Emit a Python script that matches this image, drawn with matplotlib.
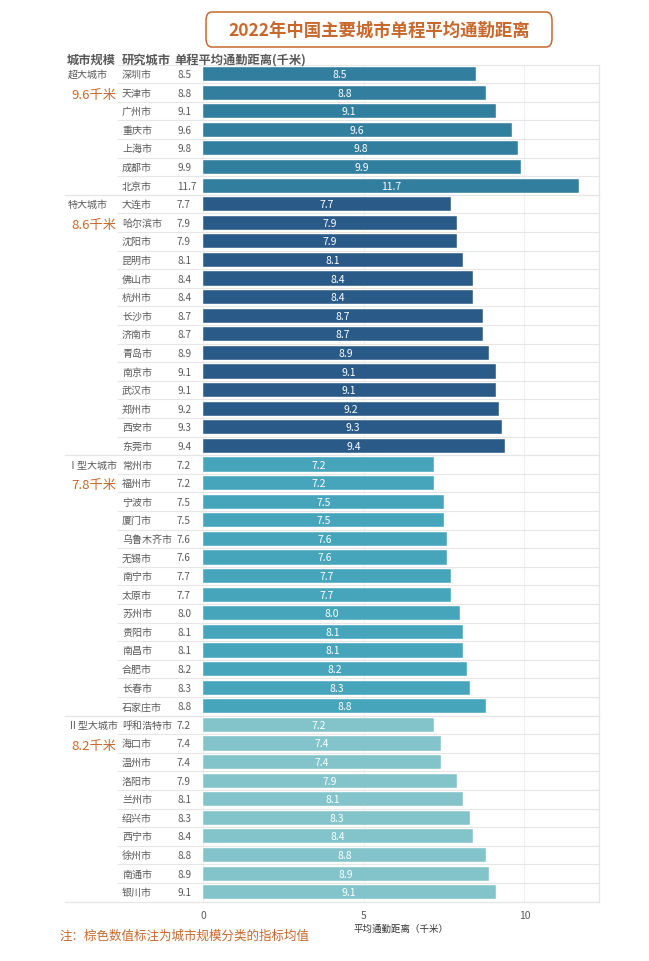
import matplotlib
matplotlib.use("Agg")
import matplotlib.pyplot as plt
from matplotlib.transforms import blended_transform_factory
from matplotlib.patches import FancyBboxPatch

plt.rcParams['font.family'] = ['Noto Sans CJK SC', 'DejaVu Sans']

groups = ["超大城市", "特大城市", "Ⅰ型大城市", "Ⅱ型大城市"]
group_avgs = ["9.6千米", "8.6千米", "7.8千米", "8.2千米"]
group_colors = ["#327E9F", "#2A5A87", "#46A5BB", "#83C4CB"]

cities_super = ["深圳市", "天津市", "广州市", "重庆市", "上海市", "成都市", "北京市"]
values_super = [8.5, 8.8, 9.1, 9.6, 9.8, 9.9, 11.7]
cities_mega = ["大连市", "哈尔滨市", "沈阳市", "昆明市", "佛山市", "杭州市", "长沙市",
               "济南市", "青岛市", "南京市", "武汉市", "郑州市", "西安市", "东莞市"]
values_mega = [7.7, 7.9, 7.9, 8.1, 8.4, 8.4, 8.7, 8.7, 8.9, 9.1, 9.1, 9.2, 9.3, 9.4]
cities_big1 = ["常州市", "福州市", "宁波市", "厦门市", "乌鲁木齐市", "无锡市", "南宁市",
               "太原市", "苏州市", "贵阳市", "南昌市", "合肥市", "长春市", "石家庄市"]
values_big1 = [7.2, 7.2, 7.5, 7.5, 7.6, 7.6, 7.7, 7.7, 8.0, 8.1, 8.1, 8.2, 8.3, 8.8]
cities_big2 = ["呼和浩特市", "海口市", "温州市", "洛阳市", "兰州市", "绍兴市", "西宁市",
               "徐州市", "南通市", "银川市"]
values_big2 = [7.2, 7.4, 7.4, 7.9, 8.1, 8.3, 8.4, 8.8, 8.9, 9.1]

group_cities = [cities_super, cities_mega, cities_big1, cities_big2]
group_values = [values_super, values_mega, values_big1, values_big2]

title = "2022年中国主要城市单程平均通勤距离"
header = ["城市规模", "研究城市", "单程平均通勤距离(千米)"]
xlabel = "平均通勤距离（千米）"
note = "注：棕色数值标注为城市规模分类的指标均值"
xticks = [0, 5, 10]

W, H = 649, 962
fig = plt.figure(figsize=(W / 100, H / 100), dpi=100)
ax_left, ax_right = 203 / W, 599 / W
ax_top, ax_bot = 1 - 65.7 / H, 1 - 902.5 / H
ax = fig.add_axes([ax_left, ax_bot, ax_right - ax_left, ax_top - ax_bot])

n = sum(len(c) for c in group_cities)
ax.set_ylim(n - 0.5, -0.5)
ax.set_xlim(0, 12.32)

gray = "#e6e6e6"
txtgray = "#595959"
orange = "#C8682C"
tr = blended_transform_factory(fig.transFigure, ax.transData)

row = 0
for gi, (cities, vals) in enumerate(zip(group_cities, group_values)):
    start = row
    for ci, (c, v) in enumerate(zip(cities, vals)):
        ax.barh(row, v, height=0.76, color=group_colors[gi], edgecolor="#ffffff",
                linewidth=0.3, zorder=3)
        ax.text(v / 2, row, f"{v:.1f}", color="white", ha="center", va="center",
                fontsize=7.5, zorder=4)
        ax.text(122 / W, row, c, transform=tr, ha="left", va="center",
                fontsize=7.2, color=txtgray)
        ax.text(177 / W, row, f"{v:.1f}", transform=tr, ha="left", va="center",
                fontsize=7.2, color=txtgray)
        if ci < len(cities) - 1:
            ax.plot([118 / W, ax_right], [row + 0.5, row + 0.5], transform=tr,
                    color=gray, lw=0.8, clip_on=False, zorder=1)
        row += 1
    ax.text(68 / W, start, groups[gi], transform=tr, ha="left", va="center",
            fontsize=7.2, color=txtgray)
    ax.text(71 / W, start + 1.1, group_avgs[gi], transform=tr, ha="left", va="center",
            fontsize=9.5, color=orange)
    ax.plot([65 / W, ax_right], [row - 0.5, row - 0.5], transform=tr,
            color=gray, lw=0.9, clip_on=False, zorder=1)

ax.plot([118 / W, ax_right], [-0.5, -0.5], transform=tr, color=gray, lw=0.8,
        clip_on=False, zorder=1)

for s in ["top", "left", "bottom"]:
    ax.spines[s].set_visible(False)
ax.spines["right"].set_color(gray)
ax.spines["right"].set_linewidth(0.9)

ax.set_yticks([])
ax.set_xticks(xticks)
ax.set_xticklabels([str(t) for t in xticks], fontsize=7.5, color=txtgray)
ax.tick_params(axis="x", length=0, pad=6)
ax.grid(axis="x", color="#f0f0f0", lw=0.8, zorder=0)
ax.set_axisbelow(True)
ax.set_xlabel(xlabel, fontsize=6.8, color="#333333", labelpad=3)

# header
hy = 1 - 60.5 / H
fig.text(67 / W, hy, header[0], ha="left", va="center", fontsize=8.8,
         fontweight="bold", color=txtgray)
fig.text(122 / W, hy, header[1], ha="left", va="center", fontsize=8.8,
         fontweight="bold", color=txtgray)
fig.text(174 / W, hy, header[2], ha="left", va="center", fontsize=8.8,
         fontweight="bold", color=txtgray)

# title box
bx0, bx1 = 206 / W, 552 / W
by0, by1 = 1 - 48 / H, 1 - 13 / H
box = FancyBboxPatch((bx0, by0), bx1 - bx0, by1 - by0,
                     boxstyle="round,pad=0,rounding_size=0.009",
                     transform=fig.transFigure, facecolor="white",
                     edgecolor=orange, linewidth=1.1)
fig.patches.append(box)
fig.text((bx0 + bx1) / 2, 1 - 31 / H, title, ha="center", va="center",
         fontsize=12.5, fontweight="bold", color=orange)

fig.text(60 / W, 1 - 936 / H, note, ha="left", va="center", fontsize=9,
         color=orange)

fig.savefig("out.png", dpi=100, facecolor="white")
